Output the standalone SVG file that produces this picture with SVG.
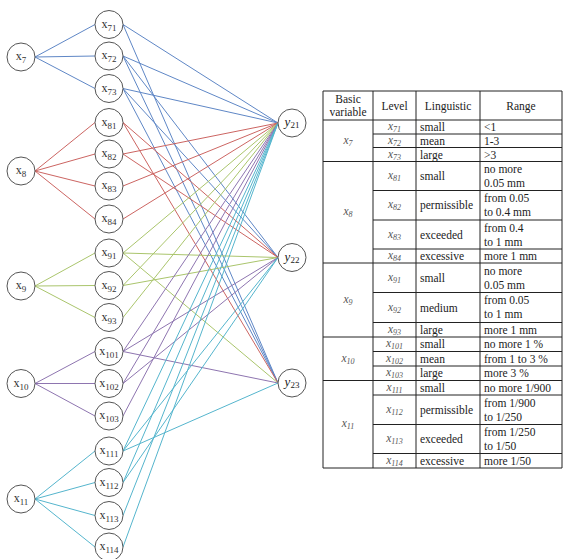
<svg xmlns="http://www.w3.org/2000/svg" width="565" height="559" viewBox="0 0 565 559">
<style>
.bg{fill:#fff}
.nd circle{fill:#fff;stroke:#555;stroke-width:1}
.nl{font-family:"Liberation Serif","DejaVu Serif",serif;font-size:12px;fill:#333;text-anchor:middle}
.yl{font-family:"Liberation Serif","DejaVu Serif",serif;font-size:13px;fill:#222;text-anchor:middle;font-style:italic}
.s{font-size:9px;font-style:normal}
#connectors line{stroke-width:1;fill:none}
.c7{stroke:#5f87c6}.c8{stroke:#cc6562}.c9{stroke:#aac56c}.c10{stroke:#8e75b0}.c11{stroke:#55b5cd}
.tb line{stroke:#222;stroke-width:1}
.tt{font-family:"Liberation Serif","DejaVu Serif",serif;font-size:11.5px;fill:#222}
.tc{text-anchor:middle}
.tv{font-family:"Liberation Serif","DejaVu Serif",serif;font-size:11.5px;fill:#555;font-style:italic;text-anchor:middle}
.ts{font-size:8px;font-style:italic}
</style>
<rect class="bg" x="0" y="0" width="565" height="559"/>
<g id="connectors">
<line class="c7" x1="35" y1="57" x2="95" y2="24.5"/>
<line class="c7" x1="35" y1="57" x2="95" y2="56"/>
<line class="c7" x1="35" y1="57" x2="95" y2="88.5"/>
<line class="c8" x1="35" y1="171" x2="95" y2="122.5"/>
<line class="c8" x1="35" y1="171" x2="95" y2="154"/>
<line class="c8" x1="35" y1="171" x2="95" y2="186"/>
<line class="c8" x1="35" y1="171" x2="95" y2="219"/>
<line class="c9" x1="35" y1="286" x2="95" y2="253"/>
<line class="c9" x1="35" y1="286" x2="95" y2="285.5"/>
<line class="c9" x1="35" y1="286" x2="95" y2="317.5"/>
<line class="c10" x1="35" y1="383.5" x2="95" y2="351.5"/>
<line class="c10" x1="35" y1="383.5" x2="95" y2="383.5"/>
<line class="c10" x1="35" y1="383.5" x2="95" y2="416"/>
<line class="c11" x1="35" y1="499" x2="95" y2="451"/>
<line class="c11" x1="35" y1="499" x2="95" y2="482.5"/>
<line class="c11" x1="35" y1="499" x2="95" y2="515.5"/>
<line class="c11" x1="35" y1="499" x2="95" y2="547"/>

<line class="c7" x1="123" y1="24.5" x2="278" y2="123"/>
<line class="c7" x1="123" y1="24.5" x2="278" y2="383"/>
<line class="c7" x1="123" y1="56" x2="278" y2="123"/>
<line class="c7" x1="123" y1="56" x2="278" y2="257.5"/>
<line class="c7" x1="123" y1="56" x2="278" y2="383"/>
<line class="c7" x1="123" y1="88.5" x2="278" y2="123"/>
<line class="c7" x1="123" y1="88.5" x2="278" y2="257.5"/>
<line class="c7" x1="123" y1="88.5" x2="278" y2="383"/>
<line class="c8" x1="123" y1="122.5" x2="278" y2="257.5"/>
<line class="c8" x1="123" y1="122.5" x2="278" y2="383"/>
<line class="c8" x1="123" y1="154" x2="278" y2="123"/>
<line class="c8" x1="123" y1="154" x2="278" y2="257.5"/>
<line class="c8" x1="123" y1="186" x2="278" y2="123"/>
<line class="c8" x1="123" y1="219" x2="278" y2="123"/>
<line class="c9" x1="123" y1="253" x2="278" y2="123"/>
<line class="c9" x1="123" y1="253" x2="278" y2="257.5"/>
<line class="c9" x1="123" y1="253" x2="278" y2="383"/>
<line class="c9" x1="123" y1="285.5" x2="278" y2="123"/>
<line class="c9" x1="123" y1="285.5" x2="278" y2="257.5"/>
<line class="c9" x1="123" y1="317.5" x2="278" y2="123"/>
<line class="c10" x1="123" y1="351.5" x2="278" y2="123"/>
<line class="c10" x1="123" y1="351.5" x2="278" y2="257.5"/>
<line class="c10" x1="123" y1="351.5" x2="278" y2="383"/>
<line class="c10" x1="123" y1="383.5" x2="278" y2="123"/>
<line class="c10" x1="123" y1="383.5" x2="278" y2="257.5"/>
<line class="c10" x1="123" y1="416" x2="278" y2="123"/>
<line class="c11" x1="123" y1="451" x2="278" y2="123"/>
<line class="c11" x1="123" y1="451" x2="278" y2="257.5"/>
<line class="c11" x1="123" y1="451" x2="278" y2="383"/>
<line class="c11" x1="123" y1="482.5" x2="278" y2="123"/>
<line class="c11" x1="123" y1="482.5" x2="278" y2="257.5"/>
<line class="c11" x1="123" y1="515.5" x2="278" y2="123"/>
<line class="c11" x1="123" y1="547" x2="278" y2="123"/>
</g>

<g id="n-x7" class="nd"><circle cx="21" cy="57" r="14"/><text class="nl" x="21" y="60">x<tspan class="s" dy="3">7</tspan></text></g>
<g id="n-x8" class="nd"><circle cx="21" cy="171" r="14"/><text class="nl" x="21" y="174">x<tspan class="s" dy="3">8</tspan></text></g>
<g id="n-x9" class="nd"><circle cx="21" cy="286" r="14"/><text class="nl" x="21" y="289">x<tspan class="s" dy="3">9</tspan></text></g>
<g id="n-x10" class="nd"><circle cx="21" cy="383.5" r="14"/><text class="nl" x="21" y="386.5">x<tspan class="s" dy="3">10</tspan></text></g>
<g id="n-x11" class="nd"><circle cx="21" cy="499" r="14"/><text class="nl" x="21" y="502">x<tspan class="s" dy="3">11</tspan></text></g>

<g id="n-x71" class="nd"><circle cx="109" cy="24.5" r="14"/><text class="nl" x="109" y="27.5">x<tspan class="s" dy="3">71</tspan></text></g>
<g id="n-x72" class="nd"><circle cx="109" cy="56" r="14"/><text class="nl" x="109" y="59">x<tspan class="s" dy="3">72</tspan></text></g>
<g id="n-x73" class="nd"><circle cx="109" cy="88.5" r="14"/><text class="nl" x="109" y="91.5">x<tspan class="s" dy="3">73</tspan></text></g>
<g id="n-x81" class="nd"><circle cx="109" cy="122.5" r="14"/><text class="nl" x="109" y="125.5">x<tspan class="s" dy="3">81</tspan></text></g>
<g id="n-x82" class="nd"><circle cx="109" cy="154" r="14"/><text class="nl" x="109" y="157">x<tspan class="s" dy="3">82</tspan></text></g>
<g id="n-x83" class="nd"><circle cx="109" cy="186" r="14"/><text class="nl" x="109" y="189">x<tspan class="s" dy="3">83</tspan></text></g>
<g id="n-x84" class="nd"><circle cx="109" cy="219" r="14"/><text class="nl" x="109" y="222">x<tspan class="s" dy="3">84</tspan></text></g>
<g id="n-x91" class="nd"><circle cx="109" cy="253" r="14"/><text class="nl" x="109" y="256">x<tspan class="s" dy="3">91</tspan></text></g>
<g id="n-x92" class="nd"><circle cx="109" cy="285.5" r="14"/><text class="nl" x="109" y="288.5">x<tspan class="s" dy="3">92</tspan></text></g>
<g id="n-x93" class="nd"><circle cx="109" cy="317.5" r="14"/><text class="nl" x="109" y="320.5">x<tspan class="s" dy="3">93</tspan></text></g>
<g id="n-x101" class="nd"><circle cx="109" cy="351.5" r="14"/><text class="nl" x="109" y="354.5">x<tspan class="s" dy="3">101</tspan></text></g>
<g id="n-x102" class="nd"><circle cx="109" cy="383.5" r="14"/><text class="nl" x="109" y="386.5">x<tspan class="s" dy="3">102</tspan></text></g>
<g id="n-x103" class="nd"><circle cx="109" cy="416" r="14"/><text class="nl" x="109" y="419">x<tspan class="s" dy="3">103</tspan></text></g>
<g id="n-x111" class="nd"><circle cx="109" cy="451" r="14"/><text class="nl" x="109" y="454">x<tspan class="s" dy="3">111</tspan></text></g>
<g id="n-x112" class="nd"><circle cx="109" cy="482.5" r="14"/><text class="nl" x="109" y="485.5">x<tspan class="s" dy="3">112</tspan></text></g>
<g id="n-x113" class="nd"><circle cx="109" cy="515.5" r="14"/><text class="nl" x="109" y="518.5">x<tspan class="s" dy="3">113</tspan></text></g>
<g id="n-x114" class="nd"><circle cx="109" cy="547" r="14"/><text class="nl" x="109" y="550">x<tspan class="s" dy="3">114</tspan></text></g>

<g id="n-y21" class="nd"><circle cx="292" cy="123" r="14"/><text class="yl" x="292" y="126">y<tspan class="s" dy="2">21</tspan></text></g>
<g id="n-y22" class="nd"><circle cx="292" cy="257.5" r="14"/><text class="yl" x="292" y="260.5">y<tspan class="s" dy="2">22</tspan></text></g>
<g id="n-y23" class="nd"><circle cx="292" cy="383" r="14"/><text class="yl" x="292" y="386">y<tspan class="s" dy="2">23</tspan></text></g>

<g id="table">
<g class="tb">
<line x1="323" y1="91" x2="323" y2="468"/>
<line x1="373" y1="91" x2="373" y2="468"/>
<line x1="416" y1="91" x2="416" y2="468"/>
<line x1="480" y1="91" x2="480" y2="468"/>
<line x1="562" y1="91" x2="562" y2="468"/>
<line x1="323" y1="91" x2="562" y2="91"/>
<line x1="323" y1="120" x2="562" y2="120"/>
<line x1="323" y1="161.5" x2="562" y2="161.5"/>
<line x1="323" y1="263" x2="562" y2="263"/>
<line x1="323" y1="337" x2="562" y2="337"/>
<line x1="323" y1="380.5" x2="562" y2="380.5"/>
<line x1="323" y1="468" x2="562" y2="468"/>
<line x1="373" y1="134" x2="562" y2="134"/>
<line x1="373" y1="147.5" x2="562" y2="147.5"/>
<line x1="373" y1="190.5" x2="562" y2="190.5"/>
<line x1="373" y1="220" x2="562" y2="220"/>
<line x1="373" y1="249" x2="562" y2="249"/>
<line x1="373" y1="292.5" x2="562" y2="292.5"/>
<line x1="373" y1="322.5" x2="562" y2="322.5"/>
<line x1="373" y1="351.5" x2="562" y2="351.5"/>
<line x1="373" y1="366" x2="562" y2="366"/>
<line x1="373" y1="395" x2="562" y2="395"/>
<line x1="373" y1="424.5" x2="562" y2="424.5"/>
<line x1="373" y1="453.5" x2="562" y2="453.5"/>
</g>
<text class="tt tc" x="348" y="103">Basic</text>
<text class="tt tc" x="348" y="116">variable</text>
<text class="tt tc" x="394.5" y="109.5">Level</text>
<text class="tt tc" x="448" y="109.5">Linguistic</text>
<text class="tt tc" x="521" y="109.5">Range</text>

<text class="tv" x="348" y="143.75">x<tspan class="ts" dy="2">7</tspan></text>
<text class="tv" x="348" y="215">x<tspan class="ts" dy="2">8</tspan></text>
<text class="tv" x="348" y="303">x<tspan class="ts" dy="2">9</tspan></text>
<text class="tv" x="348" y="361.75">x<tspan class="ts" dy="2">10</tspan></text>
<text class="tv" x="348" y="427.25">x<tspan class="ts" dy="2">11</tspan></text>

<text class="tv" x="394.5" y="130">x<tspan class="ts" dy="2">71</tspan></text>
<text class="tv" x="394.5" y="143.75">x<tspan class="ts" dy="2">72</tspan></text>
<text class="tv" x="394.5" y="157.5">x<tspan class="ts" dy="2">73</tspan></text>
<text class="tv" x="394.5" y="179">x<tspan class="ts" dy="2">81</tspan></text>
<text class="tv" x="394.5" y="208.25">x<tspan class="ts" dy="2">82</tspan></text>
<text class="tv" x="394.5" y="237.5">x<tspan class="ts" dy="2">83</tspan></text>
<text class="tv" x="394.5" y="259">x<tspan class="ts" dy="2">84</tspan></text>
<text class="tv" x="394.5" y="280.75">x<tspan class="ts" dy="2">91</tspan></text>
<text class="tv" x="394.5" y="310.5">x<tspan class="ts" dy="2">92</tspan></text>
<text class="tv" x="394.5" y="332.75">x<tspan class="ts" dy="2">93</tspan></text>
<text class="tv" x="394.5" y="347.25">x<tspan class="ts" dy="2">101</tspan></text>
<text class="tv" x="394.5" y="361.75">x<tspan class="ts" dy="2">102</tspan></text>
<text class="tv" x="394.5" y="376.25">x<tspan class="ts" dy="2">103</tspan></text>
<text class="tv" x="394.5" y="390.75">x<tspan class="ts" dy="2">111</tspan></text>
<text class="tv" x="394.5" y="412.75">x<tspan class="ts" dy="2">112</tspan></text>
<text class="tv" x="394.5" y="442">x<tspan class="ts" dy="2">113</tspan></text>
<text class="tv" x="394.5" y="463.75">x<tspan class="ts" dy="2">114</tspan></text>

<text class="tt" x="420" y="131">small</text>
<text class="tt" x="420" y="144.75">mean</text>
<text class="tt" x="420" y="158.5">large</text>
<text class="tt" x="420" y="180">small</text>
<text class="tt" x="420" y="209.25">permissible</text>
<text class="tt" x="420" y="238.5">exceeded</text>
<text class="tt" x="420" y="260">excessive</text>
<text class="tt" x="420" y="281.75">small</text>
<text class="tt" x="420" y="311.5">medium</text>
<text class="tt" x="420" y="333.75">large</text>
<text class="tt" x="420" y="348.25">small</text>
<text class="tt" x="420" y="362.75">mean</text>
<text class="tt" x="420" y="377.25">large</text>
<text class="tt" x="420" y="391.75">small</text>
<text class="tt" x="420" y="413.75">permissible</text>
<text class="tt" x="420" y="443">exceeded</text>
<text class="tt" x="420" y="464.75">excessive</text>

<text class="tt" x="484" y="131">&lt;1</text>
<text class="tt" x="484" y="144.75">1-3</text>
<text class="tt" x="484" y="158.5">&gt;3</text>
<text class="tt" x="484" y="173">no more</text>
<text class="tt" x="484" y="187">0.05 mm</text>
<text class="tt" x="484" y="202">from 0.05</text>
<text class="tt" x="484" y="216">to 0.4 mm</text>
<text class="tt" x="484" y="231.5">from 0.4</text>
<text class="tt" x="484" y="245.5">to 1 mm</text>
<text class="tt" x="484" y="260">more 1 mm</text>
<text class="tt" x="484" y="274.5">no more</text>
<text class="tt" x="484" y="288.5">0.05 mm</text>
<text class="tt" x="484" y="304">from 0.05</text>
<text class="tt" x="484" y="318">to 1 mm</text>
<text class="tt" x="484" y="333.75">more 1 mm</text>
<text class="tt" x="484" y="348.25">no more 1 %</text>
<text class="tt" x="484" y="362.75">from 1 to 3 %</text>
<text class="tt" x="484" y="377.25">more 3 %</text>
<text class="tt" x="484" y="391.75">no more 1/900</text>
<text class="tt" x="484" y="406.5">from 1/900</text>
<text class="tt" x="484" y="420.5">to 1/250</text>
<text class="tt" x="484" y="436">from 1/250</text>
<text class="tt" x="484" y="450">to 1/50</text>
<text class="tt" x="484" y="464.75">more 1/50</text>
</g>
</svg>
